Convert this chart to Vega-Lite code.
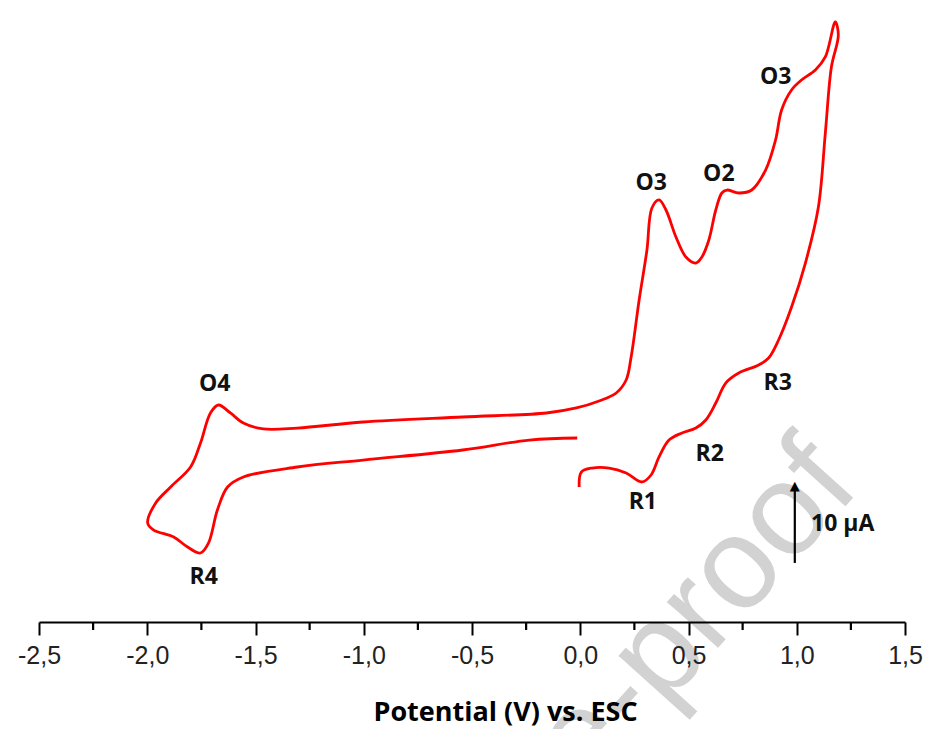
{
  "$schema": "https://vega.github.io/schema/vega-lite/v6.json",
  "width": 866,
  "height": 617,
  "autosize": {"type": "none"},
  "padding": {"left": 39, "top": 5, "right": 25, "bottom": 107},
  "background": "white",
  "config": {"view": {"stroke": null}},
  "encoding": {
    "x": {
      "field": "E", "type": "quantitative",
      "scale": {"domain": [-2.5, 1.5], "nice": false, "zero": false},
      "axis": {
        "title": "Potential (V) vs. ESC",
        "values": [-2.5, -2.0, -1.5, -1.0, -0.5, 0.0, 0.5, 1.0, 1.5],
        "labelExpr": "replace(replace(format(datum.value, '.1f'), '.', ','), '\u2212', '-')",
        "grid": false,
        "zindex": 1,
        "domainColor": "#000000",
        "domainWidth": 2,
        "tickColor": "#000000",
        "tickWidth": 2,
        "tickSize": 13,
        "labelFlush": false,
        "labelFont": "Liberation Sans",
        "labelFontSize": 25,
        "labelColor": "#222222",
        "labelPadding": 8,
        "titleFont": "Open Sans",
        "titleFontWeight": "bold",
        "titleFontSize": 27,
        "titleColor": "#000000",
        "titleX": 466,
        "titleY": 98,
        "titleAlign": "center",
        "titleBaseline": "alphabetic"
      }
    },
    "y": {
      "field": "I", "type": "quantitative",
      "scale": {"domain": [-14.53, 58], "nice": false, "zero": false},
      "axis": null
    }
  },
  "layer": [
    {
      "data": {"values": [{"t": "Journal Pre-proof", "E": 1.301, "I": 1.22}]},
      "mark": {"type": "text", "align": "right", "baseline": "alphabetic", "angle": 312, "fontSize": 130, "font": "Liberation Sans", "color": "#d2d2d2"},
      "encoding": {
        "text": {"field": "t", "type": "nominal"}
      }
    },
    {
      "data": {"values": [
        {"i": 1, "E": -0.005, "I": 1.34},
        {"i": 2, "E": 0.005, "I": 3.10},
        {"i": 3, "E": 0.055, "I": 3.57},
        {"i": 4, "E": 0.133, "I": 3.57},
        {"i": 5, "E": 0.212, "I": 2.99},
        {"i": 6, "E": 0.285, "I": 1.93},
        {"i": 7, "E": 0.327, "I": 2.75},
        {"i": 8, "E": 0.364, "I": 4.87},
        {"i": 9, "E": 0.410, "I": 6.86},
        {"i": 10, "E": 0.470, "I": 7.69},
        {"i": 11, "E": 0.534, "I": 8.27},
        {"i": 12, "E": 0.580, "I": 9.22},
        {"i": 13, "E": 0.626, "I": 11.21},
        {"i": 14, "E": 0.672, "I": 13.56},
        {"i": 15, "E": 0.732, "I": 14.74},
        {"i": 16, "E": 0.824, "I": 15.68},
        {"i": 17, "E": 0.870, "I": 16.50},
        {"i": 18, "E": 0.916, "I": 18.62},
        {"i": 19, "E": 0.976, "I": 22.50},
        {"i": 20, "E": 1.040, "I": 27.67},
        {"i": 21, "E": 1.100, "I": 34.25},
        {"i": 22, "E": 1.132, "I": 42.95},
        {"i": 23, "E": 1.160, "I": 50.71},
        {"i": 24, "E": 1.192, "I": 54.47},
        {"i": 25, "E": 1.178, "I": 56.00},
        {"i": 26, "E": 1.132, "I": 51.89},
        {"i": 27, "E": 1.086, "I": 50.36},
        {"i": 28, "E": 1.022, "I": 49.18},
        {"i": 29, "E": 0.976, "I": 48.01},
        {"i": 30, "E": 0.930, "I": 45.66},
        {"i": 31, "E": 0.902, "I": 42.13},
        {"i": 32, "E": 0.856, "I": 38.60},
        {"i": 33, "E": 0.792, "I": 36.25},
        {"i": 34, "E": 0.732, "I": 35.90},
        {"i": 35, "E": 0.677, "I": 36.25},
        {"i": 36, "E": 0.654, "I": 35.90},
        {"i": 37, "E": 0.626, "I": 33.90},
        {"i": 38, "E": 0.594, "I": 30.37},
        {"i": 39, "E": 0.562, "I": 28.38},
        {"i": 40, "E": 0.534, "I": 27.67},
        {"i": 41, "E": 0.488, "I": 28.38},
        {"i": 42, "E": 0.442, "I": 30.73},
        {"i": 43, "E": 0.396, "I": 33.90},
        {"i": 44, "E": 0.364, "I": 35.08},
        {"i": 45, "E": 0.331, "I": 34.14},
        {"i": 46, "E": 0.308, "I": 29.20},
        {"i": 47, "E": 0.272, "I": 23.32},
        {"i": 48, "E": 0.235, "I": 16.62},
        {"i": 49, "E": 0.212, "I": 13.92},
        {"i": 50, "E": 0.166, "I": 12.39},
        {"i": 51, "E": 0.087, "I": 11.45},
        {"i": 52, "E": -0.018, "I": 10.63},
        {"i": 53, "E": -0.156, "I": 10.04},
        {"i": 54, "E": -0.543, "I": 9.57},
        {"i": 55, "E": -1.003, "I": 8.98},
        {"i": 56, "E": -1.307, "I": 8.27},
        {"i": 57, "E": -1.464, "I": 8.16},
        {"i": 58, "E": -1.556, "I": 8.86},
        {"i": 59, "E": -1.616, "I": 10.04},
        {"i": 60, "E": -1.671, "I": 10.98},
        {"i": 61, "E": -1.708, "I": 10.04},
        {"i": 62, "E": -1.754, "I": 6.51},
        {"i": 63, "E": -1.800, "I": 3.69},
        {"i": 64, "E": -1.892, "I": 1.34},
        {"i": 65, "E": -1.961, "I": -0.54},
        {"i": 66, "E": -1.998, "I": -2.89},
        {"i": 67, "E": -1.970, "I": -3.72},
        {"i": 68, "E": -1.878, "I": -4.54},
        {"i": 69, "E": -1.814, "I": -5.71},
        {"i": 70, "E": -1.754, "I": -6.42},
        {"i": 71, "E": -1.717, "I": -5.24},
        {"i": 72, "E": -1.676, "I": -1.36},
        {"i": 73, "E": -1.629, "I": 1.34},
        {"i": 74, "E": -1.556, "I": 2.52},
        {"i": 75, "E": -1.307, "I": 3.69},
        {"i": 76, "E": -1.003, "I": 4.51},
        {"i": 77, "E": -0.543, "I": 5.69},
        {"i": 78, "E": -0.235, "I": 6.86},
        {"i": 79, "E": -0.014, "I": 7.10}
      ]},
      "mark": {"type": "line", "color": "#ff0000", "strokeWidth": 2.8, "interpolate": "catmull-rom"},
      "encoding": {
        "order": {"field": "i", "type": "quantitative"}
      }
    },
    {
      "data": {"values": [
        {"k": "a", "E": -2.25, "I": -14.53}, {"k": "a", "E": -2.25, "I": -15.47},
        {"k": "b", "E": -1.75, "I": -14.53}, {"k": "b", "E": -1.75, "I": -15.47},
        {"k": "c", "E": -1.25, "I": -14.53}, {"k": "c", "E": -1.25, "I": -15.47},
        {"k": "d", "E": -0.75, "I": -14.53}, {"k": "d", "E": -0.75, "I": -15.47},
        {"k": "e", "E": -0.25, "I": -14.53}, {"k": "e", "E": -0.25, "I": -15.47},
        {"k": "f", "E": 0.25, "I": -14.53}, {"k": "f", "E": 0.25, "I": -15.47},
        {"k": "g", "E": 0.75, "I": -14.53}, {"k": "g", "E": 0.75, "I": -15.47},
        {"k": "h", "E": 1.25, "I": -14.53}, {"k": "h", "E": 1.25, "I": -15.47},
        {"k": "arrow", "E": 0.991, "I": -7.59}, {"k": "arrow", "E": 0.991, "I": 1.3}
      ]},
      "mark": {"type": "line", "color": "#000000", "strokeWidth": 2.2},
      "encoding": {
        "detail": {"field": "k", "type": "nominal"}
      }
    },
    {
      "data": {"values": [
        {"t": "O4", "E": -1.688, "I": 13.39},
        {"t": "R4", "E": -1.739, "I": -9.24},
        {"t": "O3", "E": 0.328, "I": 37.02},
        {"t": "O2", "E": 0.640, "I": 38.13},
        {"t": "O3", "E": 0.903, "I": 49.48},
        {"t": "R1", "E": 0.289, "I": -0.48},
        {"t": "R2", "E": 0.598, "I": 5.22},
        {"t": "R3", "E": 0.912, "I": 13.62},
        {"t": "10 μA", "E": 1.212, "I": -3.01}
      ]},
      "mark": {"type": "text", "font": "Open Sans", "fontWeight": "bold", "fontSize": 23, "color": "#111111", "align": "center", "baseline": "middle"},
      "encoding": {
        "text": {"field": "t", "type": "nominal"}
      }
    },
    {
      "data": {"values": [{"t": "▲", "E": 0.991, "I": 0.95}]},
      "mark": {"type": "text", "font": "DejaVu Sans", "fontSize": 13, "color": "#000000", "align": "center", "baseline": "alphabetic"},
      "encoding": {
        "text": {"field": "t", "type": "nominal"}
      }
    }
  ]
}
